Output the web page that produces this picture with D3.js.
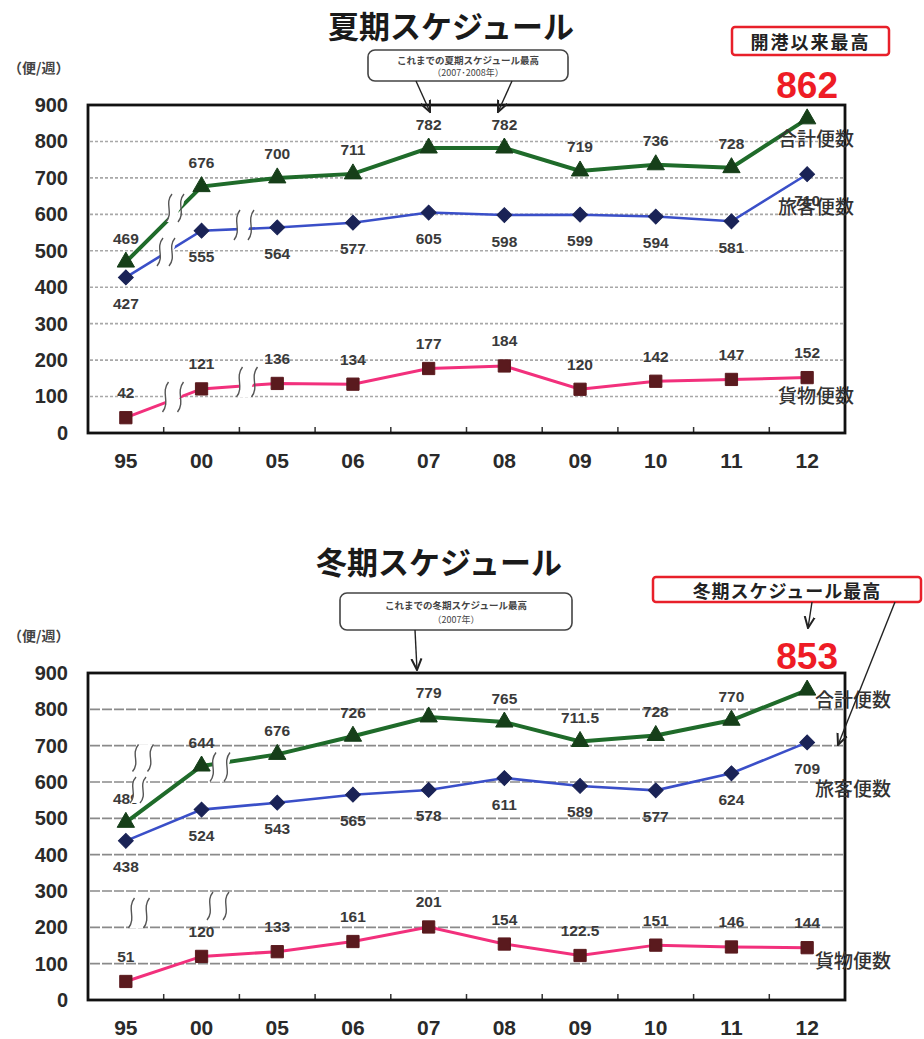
<!DOCTYPE html>
<html><head><meta charset="utf-8">
<script src="https://cdn.jsdelivr.net/npm/d3@7"></script>
<style>
html,body{margin:0;padding:0;background:#fff;}
svg{display:block;}
</style></head>
<body>
<svg id="c" width="924" height="1039"></svg>
<script>
const categories = ["95","00","05","06","07","08","09","10","11","12"];
const yTicks = [0,100,200,300,400,500,600,700,800,900];

const summerTotal     = [469,676,700,711,782,782,719,736,728,862];
const summerPassenger = [427,555,564,577,605,598,599,594,581,710];
const summerCargo     = [42,121,136,134,177,184,120,142,147,152];

const winterTotal     = [489,644,676,726,779,765,711.5,728,770,853];
const winterPassenger = [438,524,543,565,578,611,589,577,624,709];
const winterCargo     = [51,120,133,161,201,154,122.5,151,146,144];

const seriesNames = ["合計便数","旅客便数","貨物便数"];
const titles = ["夏期スケジュール","冬期スケジュール"];
const unitLabel = "（便/週）";

const svg = d3.select("#c");
const NUM = "'Liberation Sans', Arial, sans-serif";
const JP = "'Noto Sans CJK JP', sans-serif";

svg.append("defs").append("marker")
  .attr("id","arr").attr("viewBox","0 0 10 10").attr("refX",9).attr("refY",5)
  .attr("markerWidth",9).attr("markerHeight",9).attr("orient","auto-start-reverse")
  .append("path").attr("d","M0,1 L9,5 L0,9").attr("fill","none").attr("stroke","#222").attr("stroke-width",1.6);

function drawBreak(g, cx, cy, h, gap){
  const t = cy - h/2, b = cy + h/2;
  const x1 = cx - gap/2, x2 = cx + gap/2;
  const curve = x => `M${x+3},${t} C${x-5},${t+h*0.35} ${x+5},${t+h*0.65} ${x-3},${b}`;
  g.append("path")
    .attr("d",`M${x1+3},${t} L${x2+3},${t} C${x2+5},${t+h*0.65} ${x2-5},${t+h*0.35} ${x2-3},${b} L${x1-3},${b} C${x1+5},${t+h*0.65} ${x1-5},${t+h*0.35} ${x1+3},${t} Z`)
    .attr("fill","#fff");
  [x1,x2].forEach(x=>g.append("path").attr("d",curve(x)).attr("fill","none").attr("stroke","#555").attr("stroke-width",1.4));
}

function drawChart(cfg){
  const g = svg.append("g");
  const x = d3.scaleBand().domain(categories).range([88,845]);
  const cx = c => x(c) + x.bandwidth()/2;
  const y = d3.scaleLinear().domain([0,900]).range([cfg.bottom, cfg.top]);

  // title
  g.append("text").attr("x",cfg.titleX).attr("y",cfg.titleY).attr("text-anchor","middle")
    .attr("font-family",JP).attr("font-weight","bold").attr("font-size",31).attr("fill","#1a1a1a").text(cfg.title);
  g.append("text").attr("x",8).attr("y",cfg.top-32).attr("font-family",JP).attr("font-weight","bold")
    .attr("font-size",14).attr("fill","#444").text(unitLabel);

  // grid
  g.append("g").selectAll("line").data(yTicks.filter(v=>v>0 && v<900)).join("line")
    .attr("x1",90).attr("x2",843).attr("y1",d=>y(d)).attr("y2",d=>y(d))
    .attr("stroke",cfg.gridColor).attr("stroke-width",1.6).attr("stroke-dasharray",cfg.gridDash);

  // y axis labels
  const ya = g.append("g").attr("transform","translate(68,0)").call(d3.axisLeft(y).tickValues(yTicks).tickSize(0).tickPadding(0));
  ya.select(".domain").remove();
  ya.selectAll("text").attr("font-family",NUM).attr("font-weight","bold").attr("font-size",20).attr("fill","#2a2a2a");

  // x axis labels
  const xa = g.append("g").attr("transform",`translate(0,${cfg.bottom})`).call(d3.axisBottom(x).tickSize(0).tickPadding(20));
  xa.select(".domain").remove();
  xa.selectAll("text").attr("font-family",NUM).attr("font-weight","bold").attr("font-size",21).attr("fill","#2a2a2a");

  // inner ticks at band boundaries
  g.append("g").selectAll("line").data(categories.slice(1)).join("line")
    .attr("x1",d=>x(d)).attr("x2",d=>x(d)).attr("y1",cfg.bottom).attr("y2",cfg.bottom-6)
    .attr("stroke","#333").attr("stroke-width",1.5);

  // series
  const series = [
    {vals:cfg.total, line:"#1f6b2a", mk:"#163f19", w:4, shape:d3.symbolTriangle, size:130, rot:0, pos:-24},
    {vals:cfg.passenger, line:"#3a4fc8", mk:"#1a2356", w:2.6, shape:d3.symbolSquare, size:110, rot:45, pos:26},
    {vals:cfg.cargo, line:"#f2307c", mk:"#5a1a1e", w:3, shape:d3.symbolSquare, size:150, rot:0, pos:-25}
  ];
  const lineGen = d3.line().x((d,i)=>cx(categories[i])).y(d=>y(d));
  series.forEach(s=>{
    g.append("path").datum(s.vals).attr("d",lineGen).attr("fill","none").attr("stroke",s.line).attr("stroke-width",s.w);
  });
  // breaks
  cfg.breaks.forEach(b=>drawBreak(g,b[0],b[1],b[2],b[3]));
  series.forEach((s,si)=>{
    g.append("g").selectAll("path").data(s.vals).join("path")
      .attr("d",d3.symbol().type(s.shape).size(s.size))
      .attr("transform",(d,i)=>`translate(${cx(categories[i])},${y(d)}) rotate(${s.rot})`)
      .attr("fill",s.mk).attr("stroke",s.mk).attr("stroke-width",1);
  });
  // labels
  series.forEach((s,si)=>{
    g.append("g").selectAll("text").data(s.vals).join("text")
      .filter((d,i)=>!(si===0 && i===s.vals.length-1))
      .attr("x",(d,i)=>cx(categories[i])).attr("y",d=>y(d)+s.pos)
      .attr("dominant-baseline","central").attr("text-anchor","middle")
      .attr("font-family",NUM).attr("font-weight","bold").attr("font-size",15.5).attr("fill","#3a3a3a")
      .text(d=>d);
  });
  // breaks drawn over labels (winter first-point label)
  (cfg.breaksOver||[]).forEach(b=>drawBreak(g,b[0],b[1],b[2],b[3]));

  // frame
  g.append("rect").attr("x",88).attr("y",cfg.top).attr("width",757).attr("height",cfg.bottom-cfg.top)
    .attr("fill","none").attr("stroke","#111").attr("stroke-width",2.8);

  // series names
  const last = categories.length-1;
  [cfg.total, cfg.passenger, cfg.cargo].forEach((vals,i)=>{
    g.append("text").attr("x",cfg.nameX).attr("y",y(vals[last])+cfg.nameDy[i])
      .attr("dominant-baseline","central").attr("font-family",JP).attr("font-weight",500)
      .attr("font-size",19).attr("fill","#333").text(seriesNames[i]);
  });

  // big red record value
  const lastTotal = cfg.total[last];
  g.append("text").attr("x",cx(categories[last])).attr("y",cfg.bigY).attr("text-anchor","middle")
    .attr("font-family",NUM).attr("font-weight","bold").attr("font-size",37).attr("fill","#ee1c25").text(lastTotal);

  // red box
  g.append("rect").attr("x",cfg.redBox[0]).attr("y",cfg.redBox[1]).attr("width",cfg.redBox[2]).attr("height",cfg.redBox[3])
    .attr("rx",3).attr("fill","#fff").attr("stroke","#e8202a").attr("stroke-width",2.5);
  g.append("text").attr("x",cfg.redBox[0]+cfg.redBox[2]/2).attr("y",cfg.redBox[1]+cfg.redBox[3]/2)
    .attr("dominant-baseline","central").attr("text-anchor","middle").attr("font-family",JP).attr("font-weight","bold")
    .attr("font-size",cfg.redFont).attr("letter-spacing",cfg.redSpacing).attr("fill","#222").text(cfg.redText);

  // note box
  const nb = cfg.noteBox;
  g.append("rect").attr("x",nb[0]).attr("y",nb[1]).attr("width",nb[2]).attr("height",nb[3]).attr("rx",7)
    .attr("fill","#fff").attr("stroke","#444").attr("stroke-width",1.6);
  g.append("text").attr("x",nb[0]+nb[2]/2).attr("y",nb[1]+nb[3]*0.33).attr("dominant-baseline","central").attr("text-anchor","middle")
    .attr("font-family",JP).attr("font-weight","bold").attr("font-size",9.5).attr("fill","#444").text(cfg.note1);
  g.append("text").attr("x",nb[0]+nb[2]/2).attr("y",nb[1]+nb[3]*0.72).attr("dominant-baseline","central").attr("text-anchor","middle")
    .attr("font-family",JP).attr("font-size",9).attr("fill","#444").text(cfg.note2);

  cfg.arrows.forEach(a=>{
    g.append("line").attr("x1",a[0]).attr("y1",a[1]).attr("x2",a[2]).attr("y2",a[3])
      .attr("stroke","#222").attr("stroke-width",1.4).attr("marker-end","url(#arr)");
  });
}

drawChart({
  title:titles[0], titleX:451, titleY:38, top:105, bottom:433,
  total:summerTotal, passenger:summerPassenger, cargo:summerCargo,
  gridColor:"#a8a8a8", gridDash:"3,2",
  breaks:[[175,208,28,12],[166,252,28,12],[244,225,30,14],[173,397,30,15],[247,382,30,15]],
  nameX:778, nameDy:[19,31,17],
  bigY:98,
  redBox:[732,27,157,28], redText:"開港以来最高", redFont:18, redSpacing:2,
  noteBox:[368,50,200,31], note1:"これまでの夏期スケジュール最高", note2:"（2007･2008年）",
  arrows:[[416,81,430,112],[512,81,498,112]]
});

drawChart({
  title:titles[1], titleX:439, titleY:574, top:673, bottom:1000,
  total:winterTotal, passenger:winterPassenger, cargo:winterCargo,
  gridColor:"#8a8a8a", gridDash:"10,2",
  breaks:[[220,767,29,14],[139,913,30,15],[218,906,28,16]],
  breaksOver:[[143,758,27,15],[138,790,26,10]],
  nameX:815, nameDy:[8,45,12],
  bigY:669,
  redBox:[653,577,268,25], redText:"冬期スケジュール最高", redFont:18, redSpacing:1,
  noteBox:[340,593,232,37], note1:"これまでの冬期スケジュール最高", note2:"（2007年）",
  arrows:[[415,630,417,670],[812,602,808,628],[895,602,838,745]]
});
</script>
</body></html>
